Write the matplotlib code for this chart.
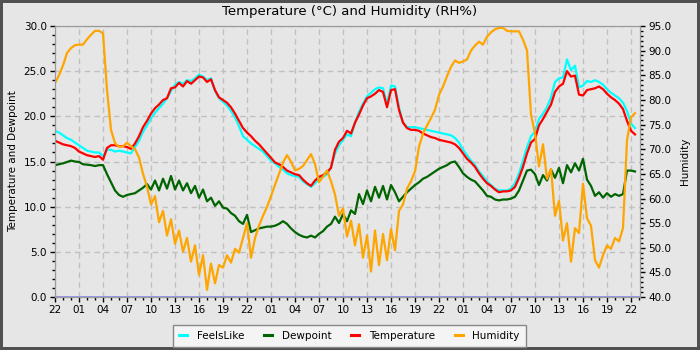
import pandas as pd
import matplotlib
matplotlib.use("Agg")
import matplotlib.pyplot as plt
import matplotlib.dates as mdates
from matplotlib.ticker import MultipleLocator, FormatStrFormatter

# half-hourly readings starting at 22:00
start = "2024-06-10 22:00"
n_points = 146

temperature = [
    17.3, 17.1, 16.9, 16.8, 16.7, 16.5, 16.1, 15.9, 15.7, 15.6,
    15.5, 15.6, 15.2, 16.5, 16.8, 16.8, 16.7, 16.7, 16.6, 16.4,
    17.0, 17.8, 18.8, 19.5, 20.3, 20.9, 21.3, 21.8, 22.0, 23.1,
    23.2, 23.7, 23.3, 23.9, 23.6, 24.0, 24.4, 24.3, 23.8, 24.1,
    22.9, 22.1, 21.8, 21.5, 21.0, 20.3, 19.5, 18.7, 18.2, 17.8,
    17.3, 16.9, 16.4, 15.9, 15.4, 14.9, 14.7, 14.4, 14.0, 13.8,
    13.6, 13.5, 13.0, 12.6, 12.3, 12.9, 13.3, 13.5, 13.8, 14.3,
    16.3, 17.2, 17.6, 18.4, 18.1, 19.3, 20.2, 21.2, 22.0, 22.2,
    22.5, 22.9, 22.7, 21.0, 22.9, 23.0, 20.7, 19.3, 18.7, 18.5,
    18.5, 18.4, 18.1, 17.9, 17.7, 17.6, 17.4, 17.3, 17.2, 17.1,
    16.9, 16.5, 15.9, 15.3, 14.9, 14.4, 13.7, 13.1, 12.6, 12.3,
    11.9, 11.6, 11.7, 11.7, 11.8, 12.2, 13.2, 14.4, 15.9, 17.1,
    17.5, 19.0, 19.7, 20.5, 21.3, 22.7, 23.3, 23.6, 25.0, 24.4,
    24.5, 22.4, 22.3, 22.9, 23.0, 23.1, 23.3, 23.0, 22.5, 22.1,
    21.8, 21.4, 20.8, 19.5, 18.4, 18.0,
]

feels_like = [
    18.4, 18.2, 17.9, 17.6, 17.4, 17.1, 16.8, 16.5, 16.2, 16.1,
    16.0, 16.0, 15.6, 16.3, 16.3, 16.1, 16.2, 16.1, 16.0, 15.9,
    16.6, 17.3, 18.3, 19.0, 19.8, 20.4, 20.9, 21.4, 22.0, 22.8,
    23.5, 23.8, 23.6, 24.0, 23.9, 24.2, 24.6, 24.4, 24.0, 24.2,
    22.8, 22.0, 21.6, 21.2, 20.6, 19.9, 18.9, 17.8, 17.4, 17.0,
    16.7, 16.4, 16.1, 15.6, 15.1, 14.8, 14.4, 14.1, 13.7, 13.5,
    13.4, 13.3, 12.8, 12.5, 12.2, 12.6, 13.1, 13.3, 13.6, 14.4,
    15.9, 16.8, 17.4, 18.0, 17.8, 19.3, 20.5, 21.4, 22.2, 22.6,
    23.0, 23.2, 23.1, 21.3, 23.4, 23.3, 21.0, 19.3, 18.8, 18.8,
    18.8, 18.7, 18.6, 18.5, 18.4, 18.3, 18.2, 18.1, 18.0, 17.9,
    17.6, 17.1, 16.3, 15.7, 15.1, 14.6, 13.9, 13.4, 12.8, 12.4,
    12.0, 11.8, 11.8, 11.8, 12.0, 12.6, 13.7, 15.1, 16.6, 17.8,
    18.3, 19.7, 20.3, 21.0, 22.1, 23.8, 24.2, 24.3, 26.3, 25.1,
    25.6, 23.2, 23.4, 23.9, 23.8, 24.0, 23.8, 23.5, 23.0, 22.6,
    22.3, 22.0, 21.5, 20.6, 19.2, 18.7,
]

dewpoint = [
    14.6, 14.7, 14.8, 14.95, 15.1, 15.0, 14.95, 14.7, 14.65, 14.6,
    14.5, 14.6, 14.6, 13.6, 12.7, 11.8, 11.3, 11.1, 11.3, 11.4,
    11.5, 11.8, 12.1, 12.5, 11.9, 12.9, 11.8, 13.1, 12.0, 13.4,
    11.9, 12.9, 11.8, 12.6, 11.5, 12.3, 11.0, 11.9, 10.6, 11.0,
    10.1, 10.6, 9.9, 9.8, 9.3, 9.0, 8.4, 8.1, 9.1, 7.2,
    7.4, 7.6, 7.7, 7.8, 7.8, 7.9, 8.1, 8.4, 8.1, 7.6,
    7.2, 6.9, 6.7, 6.6, 6.8, 6.6, 7.0, 7.3, 7.8, 8.1,
    8.9, 8.2, 9.2, 8.4, 9.6, 9.2, 11.4, 10.3, 11.8, 10.6,
    12.2, 11.0, 12.3, 10.8, 12.4, 11.6, 10.6, 11.1, 11.6, 12.0,
    12.4, 12.7, 13.1, 13.3, 13.6, 13.9, 14.2, 14.4, 14.6, 14.9,
    15.0, 14.4, 13.7, 13.3, 13.0, 12.8, 12.3, 11.8, 11.2, 11.1,
    10.8, 10.7, 10.8, 10.8, 10.9, 11.1, 11.8, 12.9, 14.0, 14.1,
    13.6, 12.4, 13.5, 12.9, 14.1, 13.2, 14.3, 12.6, 14.6, 13.8,
    14.8, 14.0, 15.3, 13.0, 12.3, 11.2, 11.6, 11.0, 11.5, 11.1,
    11.4, 11.2, 11.4, 14.0, 14.0, 13.9,
]

humidity = [
    83.4, 85.0, 87.0, 89.5, 90.5, 91.1, 91.2, 91.2, 92.3, 93.2,
    94.0, 94.0, 93.5, 82.0, 73.9, 71.2, 70.5, 70.6, 71.3, 70.6,
    70.0, 68.3, 65.0, 62.4, 58.8, 60.5, 55.2, 57.5, 52.5, 55.8,
    50.8, 53.5, 49.2, 52.0, 47.2, 50.5, 44.5, 48.5, 41.5, 46.8,
    42.8, 46.5, 46.0, 48.5, 47.0, 49.8, 49.0, 52.0, 55.0, 48.0,
    52.0, 54.5, 56.5, 58.3, 60.5, 62.8, 65.0, 67.3, 68.8, 67.5,
    65.7, 66.0, 66.6, 67.8, 69.0, 67.0, 63.3, 64.4, 65.7, 63.5,
    60.8, 56.5, 58.0, 52.3, 55.5, 50.5, 54.8, 48.0, 52.5, 45.2,
    53.5, 46.5, 52.8, 47.5, 53.8, 49.5, 57.5, 58.8, 62.0, 63.5,
    65.5, 70.5, 73.2, 74.8, 76.3, 78.0, 81.0, 82.7, 84.8, 86.7,
    88.0, 87.5, 87.8, 88.2, 90.0, 91.0, 91.8, 91.2, 92.8, 93.7,
    94.3, 94.6, 94.6, 94.0, 93.9, 93.9, 93.9, 92.2, 90.0, 77.0,
    73.2, 66.5, 71.0, 64.0, 66.0, 56.5, 59.5, 51.5, 55.0, 47.2,
    54.0, 53.0, 63.0, 56.0, 54.5, 47.5, 46.0, 48.5, 50.5, 49.8,
    52.0, 51.3, 54.0, 71.8, 76.5, 77.3,
]

times = pd.date_range(start, periods=n_points, freq="30min")

bg = "#e6e6e6"
fig = plt.figure(figsize=(7, 3.5), dpi=100, facecolor=bg)
fig.patch.set_edgecolor("#505050")
fig.patch.set_linewidth(4)
ax = fig.add_axes([0.0786, 0.151, 0.8354, 0.775])
ax.set_facecolor(bg)

ax.plot(times, feels_like, color="cyan", lw=1.6, label="FeelsLike")
ax.plot(times, dewpoint, color="#006400", lw=1.6, label="Dewpoint")
ax.plot(times, temperature, color="red", lw=1.6, label="Temperature")
ax.axhline(0, color="#7f7fee", lw=1.8, zorder=5)

ax2 = ax.twinx()
ax2.plot(times, humidity, color="orange", lw=1.6, label="Humidity")

ax.set_ylim(0, 30)
ax2.set_ylim(40, 95)
t0 = pd.Timestamp(start)
ax.set_xlim(t0, t0 + pd.Timedelta(hours=73.1))

ax.xaxis.set_major_locator(mdates.HourLocator(byhour=[1, 4, 7, 10, 13, 16, 19, 22]))
ax.xaxis.set_minor_locator(mdates.HourLocator())
ax.xaxis.set_major_formatter(mdates.DateFormatter("%H"))
for a in (ax, ax2):
    a.yaxis.set_major_locator(MultipleLocator(5))
    a.yaxis.set_minor_locator(MultipleLocator(1))
    a.yaxis.set_major_formatter(FormatStrFormatter("%.1f"))
    a.tick_params(which="major", length=3.5, width=1, labelsize=7.5, pad=2.5, colors="black")
    a.tick_params(which="minor", length=2.2, width=1)
    for s in a.spines.values():
        s.set_color("#999999")

ax.grid(True, which="major", color="#c0c0c0", linestyle=(0, (4, 3)), lw=1)
ax.set_axisbelow(True)

fig.suptitle("Temperature (°C) and Humidity (RH%)", y=0.985, fontsize=9.5)
ax.set_ylabel("Temperature and Dewpoint", fontsize=7.5, labelpad=4)
ax2.set_ylabel("Humidity", fontsize=7.5, labelpad=6)

handles = ax.get_legend_handles_labels()[0] + ax2.get_legend_handles_labels()[0]
labels = ["FeelsLike", "Dewpoint", "Temperature", "Humidity"]
leg = fig.legend(handles, labels, loc="lower center", bbox_to_anchor=(0.499, 0.008),
                 ncol=4, fontsize=7.5, frameon=True, fancybox=False,
                 handlelength=0.8, handletextpad=0.9, columnspacing=1.9,
                 borderaxespad=0, borderpad=0.6)
leg.get_frame().set_facecolor("#f4f4f4")
leg.get_frame().set_edgecolor("#888888")
leg.get_frame().set_alpha(1)
for line in leg.get_lines():
    line.set_linewidth(2.2)

fig.savefig("out.png", dpi=100, facecolor=bg, edgecolor=fig.patch.get_edgecolor())
